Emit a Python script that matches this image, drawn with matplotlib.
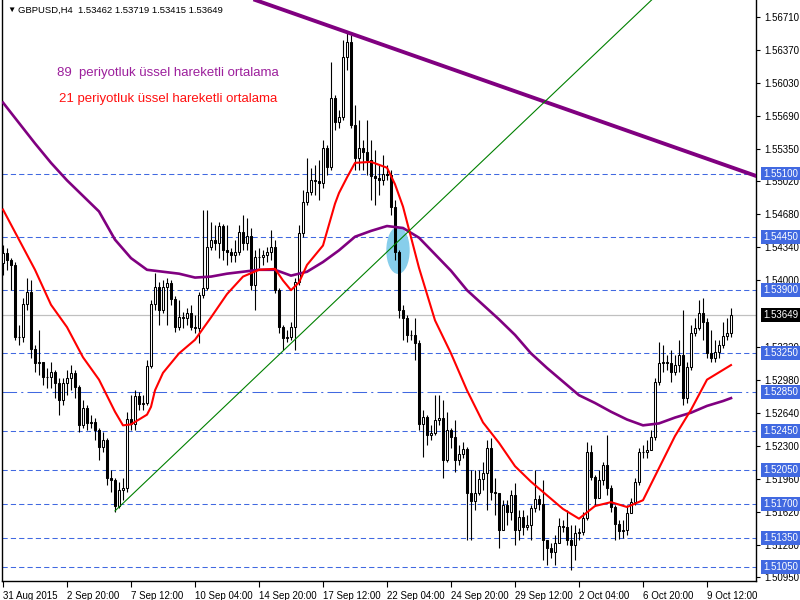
import matplotlib
matplotlib.use("Agg")
import matplotlib.pyplot as plt
import matplotlib.transforms as mtransforms
from matplotlib.patches import Rectangle, Ellipse

plt.rcParams['font.family'] = ['Liberation Sans', 'DejaVu Sans']

# GBPUSD H4 bars (open of each bar = previous close)
first_open = 1.5418
closes = [1.5428, 1.5421, 1.5416, 1.5342, 1.5342, 1.5376, 1.5388, 1.5330, 1.5315, 1.5316,
          1.5301, 1.5301, 1.5306, 1.5295, 1.5277, 1.5295, 1.5300, 1.5305, 1.5290, 1.5251,
          1.5269, 1.5253, 1.5254, 1.5246, 1.5229, 1.5236, 1.5197, 1.5195, 1.5168, 1.5185,
          1.5187, 1.5258, 1.5252, 1.5281, 1.5273, 1.5274, 1.5312, 1.5376, 1.5393, 1.5370,
          1.5393, 1.5397, 1.5381, 1.5352, 1.5362, 1.5361, 1.5367, 1.5352, 1.5351, 1.5385,
          1.5392, 1.5434, 1.5442, 1.5439, 1.5456, 1.5431, 1.5429, 1.5426, 1.5429, 1.5450,
          1.5439, 1.5446, 1.5395, 1.5424, 1.5424, 1.5426, 1.5429, 1.5434, 1.5390, 1.5352,
          1.5341, 1.5342, 1.5352, 1.5398, 1.5449, 1.5481, 1.5491, 1.5503, 1.5502, 1.5500,
          1.5536, 1.5517, 1.5588, 1.5563, 1.5568, 1.5630, 1.5645, 1.5560, 1.5526, 1.5536,
          1.5532, 1.5524, 1.5507, 1.5505, 1.5503, 1.5510, 1.5509, 1.5476, 1.5429, 1.5370,
          1.5361, 1.5344, 1.5344, 1.5336, 1.5252, 1.5260, 1.5241, 1.5243, 1.5257, 1.5259,
          1.5215, 1.5246, 1.5239, 1.5215, 1.5222, 1.5227, 1.5181, 1.5173, 1.5181, 1.5196,
          1.5202, 1.5228, 1.5182, 1.5181, 1.5143, 1.5169, 1.5162, 1.5179, 1.5143, 1.5157,
          1.5146, 1.5148, 1.5166, 1.5175, 1.5170, 1.5133, 1.5125, 1.5121, 1.5130, 1.5147,
          1.5146, 1.5133, 1.5128, 1.5140, 1.5141, 1.5156, 1.5224, 1.5198, 1.5176, 1.5195,
          1.5210, 1.5187, 1.5167, 1.5150, 1.5142, 1.5143, 1.5161, 1.5172, 1.5193, 1.5224,
          1.5224, 1.5226, 1.5239, 1.5296, 1.5315, 1.5316, 1.5315, 1.5306, 1.5313, 1.5323,
          1.5279, 1.5311, 1.5346, 1.5351, 1.5367, 1.5357, 1.5325, 1.5320, 1.5326, 1.5334,
          1.5343, 1.5346, 1.53649]
highs = [1.5436, 1.5433, 1.5423, 1.5419, 1.5354, 1.5382, 1.5403, 1.5400, 1.5334, 1.5349,
         1.5313, 1.5310, 1.5316, 1.5308, 1.5300, 1.5300, 1.5308, 1.5313, 1.5308, 1.5292,
         1.5277, 1.5272, 1.5262, 1.5259, 1.5248, 1.5244, 1.5238, 1.5205, 1.5197, 1.5193,
         1.5197, 1.5265, 1.5282, 1.5287, 1.5285, 1.5282, 1.5318, 1.5380, 1.5408, 1.5398,
         1.5400, 1.5403, 1.5400, 1.5384, 1.5380, 1.5368, 1.5372, 1.5375, 1.5364, 1.5388,
         1.5473, 1.5473, 1.5460, 1.5457, 1.5460, 1.5458, 1.5457, 1.5433, 1.5442, 1.5457,
         1.5467, 1.5464, 1.5454, 1.5431, 1.5433, 1.5431, 1.5434, 1.5452, 1.5442, 1.5392,
         1.5354, 1.5349, 1.5357, 1.5403, 1.5457, 1.5493, 1.5526, 1.5516, 1.5519, 1.5524,
         1.5545, 1.5539, 1.5625, 1.5591, 1.5575, 1.5647, 1.5656, 1.5652, 1.5580, 1.5565,
         1.5545, 1.5565, 1.5545, 1.5534, 1.5519, 1.5529, 1.5519, 1.5514, 1.5483, 1.5431,
         1.5375, 1.5364, 1.5349, 1.5361, 1.5339, 1.5267, 1.5262, 1.5251, 1.5282, 1.5282,
         1.5277, 1.5265, 1.5248, 1.5257, 1.5231, 1.5234, 1.5229, 1.5205, 1.5205, 1.5205,
         1.5213, 1.5236, 1.5238, 1.5197, 1.5179, 1.5174, 1.5174, 1.5185, 1.5192, 1.5164,
         1.5164, 1.5159, 1.5169, 1.5205, 1.5179, 1.5195, 1.5133, 1.5130, 1.5138, 1.5156,
         1.5154, 1.5164, 1.5148, 1.5148, 1.5145, 1.5162, 1.5234, 1.5231, 1.5200, 1.5205,
         1.5213, 1.5241, 1.5190, 1.5169, 1.5154, 1.5154, 1.5169, 1.5176, 1.5197, 1.5228,
         1.5231, 1.5236, 1.5246, 1.5300, 1.5337, 1.5334, 1.5323, 1.5328, 1.5323, 1.5339,
         1.5370, 1.5316, 1.5354, 1.5361, 1.5380, 1.5382, 1.5361, 1.5349, 1.5339, 1.5339,
         1.5357, 1.5361, 1.53719]
lows = [1.5406, 1.5411, 1.5390, 1.5339, 1.5334, 1.5337, 1.5370, 1.5320, 1.5306, 1.5303,
        1.5292, 1.5289, 1.5289, 1.5279, 1.5262, 1.5272, 1.5282, 1.5287, 1.5279, 1.5244,
        1.5248, 1.5246, 1.5248, 1.5236, 1.5215, 1.5224, 1.5190, 1.5182, 1.5162, 1.5166,
        1.5174, 1.5182, 1.5246, 1.5246, 1.5267, 1.5267, 1.5272, 1.5310, 1.5370, 1.5354,
        1.5367, 1.5354, 1.5375, 1.5347, 1.5349, 1.5351, 1.5354, 1.5349, 1.5346, 1.5336,
        1.5382, 1.5390, 1.5431, 1.5431, 1.5423, 1.5421, 1.5416, 1.5419, 1.5419, 1.5426,
        1.5431, 1.5431, 1.5390, 1.5370, 1.5413, 1.5416, 1.5419, 1.5421, 1.5387, 1.5346,
        1.5328, 1.5337, 1.5339, 1.5328, 1.5395, 1.5445, 1.5478, 1.5488, 1.5488, 1.5483,
        1.5495, 1.5508, 1.5514, 1.5555, 1.5557, 1.5565, 1.5616, 1.5557, 1.5514, 1.5514,
        1.5514, 1.5508, 1.5483, 1.5478, 1.5488, 1.5498, 1.5503, 1.5467, 1.5421, 1.5361,
        1.5339, 1.5337, 1.5339, 1.5318, 1.5246, 1.5218, 1.5231, 1.5236, 1.5241, 1.5251,
        1.5197, 1.5213, 1.5228, 1.5203, 1.5210, 1.5217, 1.5133, 1.5133, 1.5164, 1.5179,
        1.5185, 1.5164, 1.5174, 1.5159, 1.5125, 1.5154, 1.5148, 1.5154, 1.5128, 1.5133,
        1.5138, 1.5143, 1.5133, 1.5162, 1.5164, 1.5113, 1.5107, 1.5115, 1.5107, 1.5133,
        1.5141, 1.5128, 1.5102, 1.5113, 1.5133, 1.5138, 1.5154, 1.5195, 1.5169, 1.5185,
        1.5190, 1.5179, 1.5162, 1.5133, 1.5134, 1.5135, 1.5138, 1.5164, 1.5169, 1.5190,
        1.5217, 1.5217, 1.5226, 1.5236, 1.5292, 1.5306, 1.5308, 1.5296, 1.5303, 1.5306,
        1.5272, 1.5274, 1.5308, 1.5343, 1.5349, 1.5339, 1.5320, 1.5316, 1.5316, 1.5320,
        1.5331, 1.5339, 1.53415]
last_open = 1.53462

# moving averages at these bars
ema21_bars = [0, 4, 8, 12, 16, 20, 24, 28, 30, 32, 36, 37, 38, 40, 44, 48, 52, 56, 60, 64,
              68, 70, 72, 74, 76, 80, 83, 84, 86, 88, 92, 96, 98, 100, 104, 108, 112, 116, 120,
              124, 128, 132, 136, 140, 144, 148, 152, 156, 160, 164, 168, 172, 176, 180, 182]
ema21 = [1.5473, 1.5442, 1.5411, 1.5375, 1.5352, 1.5321, 1.5298, 1.5265, 1.5251, 1.5252,
         1.5262, 1.5270, 1.5287, 1.5305, 1.5325, 1.5339, 1.5362, 1.5386, 1.5404, 1.5411,
         1.5412, 1.5400, 1.5390, 1.5398, 1.5416, 1.5436, 1.5479, 1.5490, 1.5506, 1.5521,
         1.5522, 1.5516, 1.5499, 1.5476, 1.5413, 1.5359, 1.5325, 1.5287, 1.5254, 1.5233,
         1.5209, 1.5193, 1.5179, 1.5165, 1.5155, 1.5168, 1.5172, 1.5167, 1.5174, 1.5207,
         1.5240, 1.5267, 1.5298, 1.5308, 1.5313]
ema89_bars = list(range(0, 181, 4)) + [182]
ema89 = [1.5583, 1.5562, 1.5541, 1.5521, 1.5503, 1.5487, 1.5471, 1.5442, 1.5423, 1.5411,
         1.5409, 1.5407, 1.5403, 1.5404, 1.5407, 1.5409, 1.5411, 1.5411, 1.5405, 1.5409,
         1.5419, 1.5431, 1.5445, 1.5451, 1.5456, 1.5454, 1.5444, 1.5427, 1.5410, 1.5390,
         1.5375, 1.5360, 1.5344, 1.5325, 1.5310, 1.5296, 1.5282, 1.5274, 1.5265, 1.5257,
         1.5251, 1.5253, 1.5259, 1.5264, 1.5271, 1.5276, 1.5279]

# drawn objects
levels = [1.5510, 1.5445, 1.5390, 1.5325, 1.5285, 1.5245, 1.5205, 1.5170, 1.5135, 1.5105]
dashdot_level = 1.5285
bid = 1.53649
trend_purple = [(65.5, 1.5685), (187.25, 1.5509)]
trend_green = [(28, 1.5163), (161.25, 1.5685)]
ellipse_center = (98.75, 1.5431)

yticks = [1.56710, 1.56370, 1.56030, 1.55690, 1.55350, 1.55020, 1.54680, 1.54340, 1.54000,
          1.53320, 1.52980, 1.52640, 1.52300, 1.51960, 1.51620, 1.51280, 1.50950]
xtick_bars = list(range(0, 177, 16))
xtick_labels = ['31 Aug 2015', '2 Sep 20:00', '7 Sep 12:00', '10 Sep 04:00', '14 Sep 20:00',
                '17 Sep 12:00', '22 Sep 04:00', '24 Sep 20:00', '29 Sep 12:00', '2 Oct 04:00',
                '6 Oct 20:00', '9 Oct 12:00']

fig = plt.figure(figsize=(8, 6), dpi=100)
ax = fig.add_axes([2/800, 19/600, 754/800, 581/600])
ax.set_xlim(-0.25, 188.25)
ax.set_ylim(1.50909, 1.56885)

blue = '#4169e1'
for lv in levels:
    if lv == dashdot_level:
        ls = (0, (14, 4, 2, 4))
    else:
        ls = (0, (5, 3))
    ax.axhline(lv, color=blue, lw=0.75, ls=ls, zorder=1)
ax.axhline(bid, color='#c0c0c0', lw=0.9, zorder=1)

ax.add_patch(Ellipse(ellipse_center, 5.5, 0.0047, color='#87ceeb', zorder=1.5))

opens = [first_open] + closes[:-1]
opens[-1] = last_open
for i in range(len(closes)):
    o, c = opens[i], closes[i]
    hi = max(highs[i], o, c)
    lo = min(lows[i], o, c)
    ax.vlines(i, lo, hi, color='black', lw=0.8, zorder=2)
    bot = min(o, c)
    h = abs(c - o)
    if h < 0.00005:
        ax.hlines(c, i - 0.35, i + 0.35, color='black', lw=0.8, zorder=3)
        continue
    if c >= o:
        ax.add_patch(Rectangle((i - 0.34, bot), 0.68, h, fc='white', ec='black', lw=0.75, zorder=3))
    else:
        ax.add_patch(Rectangle((i - 0.34, bot), 0.68, h, fc='black', ec='black', lw=0.75, zorder=3))

ax.plot(ema89_bars, ema89, color='#800080', lw=1.9, zorder=4)
ax.plot(ema21_bars, ema21, color='#ff0000', lw=1.5, zorder=4)

ax.axline(trend_purple[0], trend_purple[1], color='#800080', lw=2.8, zorder=4)
(gx0, gy0), (gx1, gy1) = trend_green
slope = (gy1 - gy0) / (gx1 - gx0)
ax.plot([gx0, gx1 + 20], [gy0, gy1 + 20 * slope], color='#008000', lw=0.8, zorder=4)

ax.text(0.073, 0.874, '89  periyotluk üssel hareketli ortalama', transform=ax.transAxes,
        color='#9c1f9c', fontsize=9.5, va='center')
ax.text(0.0756, 0.8296, '21 periyotluk üssel hareketli ortalama', transform=ax.transAxes,
        color='#ff1010', fontsize=9.5, va='center')

fig.text(7/800, 1 - 10/600, '▼', fontsize=6, va='center', color='black')
fig.text(18/800, 1 - 10/600, 'GBPUSD,H4  1.53462 1.53719 1.53415 1.53649', fontsize=6.8,
         va='center', color='black')

ax.yaxis.tick_right()
ax.set_yticks(yticks)
ax.set_yticklabels(['%.5f' % v for v in yticks])
ax.tick_params(axis='y', direction='out', length=3, width=0.8, labelsize=7, pad=3)
ax.set_xticks(xtick_bars)
ax.set_xticklabels(xtick_labels)
ax.tick_params(axis='x', direction='out', length=4, width=0.8, labelsize=7, pad=3)
for lbl in ax.get_xticklabels():
    lbl.set_ha('left')
ax.spines['top'].set_visible(False)
for s in ['left', 'right', 'bottom']:
    ax.spines[s].set_linewidth(1.0)

tr = mtransforms.blended_transform_factory(ax.transAxes, ax.transData)
for lv in levels:
    ax.text(1 + 7/754, lv, '%.5f' % lv, transform=tr, color='white', fontsize=7, va='center',
            ha='left', clip_on=False, zorder=10,
            bbox=dict(boxstyle='square,pad=0.2', fc=blue, ec='none'))
ax.text(1 + 7/754, bid, '%.5f' % bid, transform=tr, color='white', fontsize=7, va='center',
        ha='left', clip_on=False, zorder=10,
        bbox=dict(boxstyle='square,pad=0.2', fc='black', ec='none'))

fig.savefig('out.png', dpi=100)
